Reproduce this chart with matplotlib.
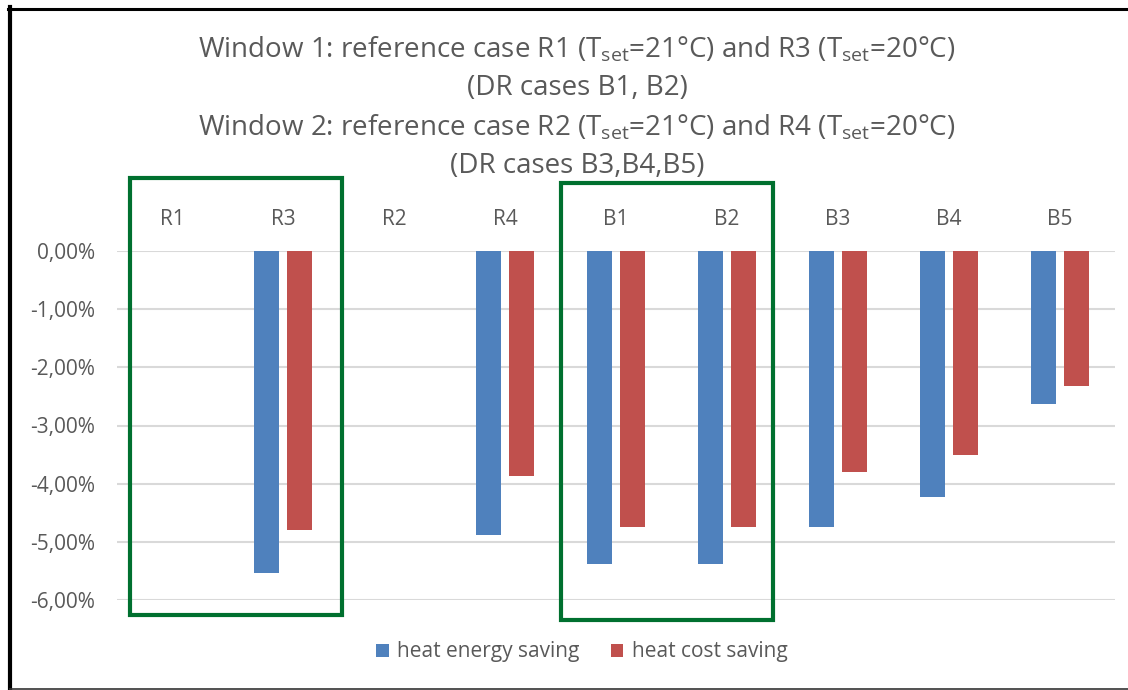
import numpy as np
import matplotlib
matplotlib.use('Agg')
import matplotlib.pyplot as plt
from matplotlib import font_manager
from matplotlib.patches import Rectangle
from matplotlib.lines import Line2D

# datos
categorias = ['R1', 'R3', 'R2', 'R4', 'B1', 'B2', 'B3', 'B4', 'B5']
ahorro_energia = [0.0, -5.54, 0.0, -4.88, -5.38, -5.38, -4.74, -4.22, -2.63]
ahorro_coste = [0.0, -4.79, 0.0, -3.87, -4.74, -4.74, -3.80, -3.51, -2.32]
ticks_y = [0, -1, -2, -3, -4, -5, -6]
titulo = [
    r'Window 1: reference case R1 (T$_{\mathrm{set}}$=21°C) and R3 (T$_{\mathrm{set}}$=20°C)',
    '(DR cases B1, B2)',
    r'Window 2: reference case R2 (T$_{\mathrm{set}}$=21°C) and R4 (T$_{\mathrm{set}}$=20°C)',
    '(DR cases B3,B4,B5)',
]

# fuente parecida a Calibri
nombres = {f.name for f in font_manager.fontManager.ttflist}
fuente = 'Liberation Sans Narrow' if 'Liberation Sans Narrow' in nombres else 'Open Sans'
plt.rcParams['font.family'] = [fuente, 'DejaVu Sans']
plt.rcParams['mathtext.fontset'] = 'custom'
plt.rcParams['mathtext.rm'] = fuente
plt.rcParams['mathtext.it'] = fuente

gris = '#595959'
azul = '#4F81BD'
rojo = '#C0504D'
verde = '#00702F'

W, H = 1128, 690
fig = plt.figure(figsize=(W / 100, H / 100), dpi=100)
ax = fig.add_axes([117 / W, 89.7 / H, 998 / W, 349.6 / H])

x = np.arange(len(categorias))
ancho = 0.225
ax.bar(x - 0.149, ahorro_energia, ancho, color=azul, label='heat energy saving', zorder=3)
ax.bar(x + 0.149, ahorro_coste, ancho, color=rojo, label='heat cost saving', zorder=3)

ax.set_xlim(-0.5, len(categorias) - 0.5)
ax.set_ylim(-6, 0)
ax.set_yticks(ticks_y)
ax.set_yticklabels([f'{v:.2f}%'.replace('.', ',') for v in ticks_y])
ax.set_xticks(x)
ax.set_xticklabels(categorias)
ax.xaxis.tick_top()
ax.tick_params(axis='both', length=0, colors=gris, labelsize=15)
ax.tick_params(axis='x', pad=15)
ax.tick_params(axis='y', pad=16)
ax.grid(axis='y', color='#D9D9D9', linewidth=1.5, zorder=0)
ax.set_axisbelow(True)
for s in ax.spines.values():
    s.set_visible(False)

# titulo en cuatro lineas
for texto, yy in zip(titulo, [50, 88, 128, 166]):
    fig.text(577 / W, 1 - yy / H, texto, ha='center', va='center', fontsize=20, color=gris)

# leyenda
fig.legend(loc='center', bbox_to_anchor=(582 / W, 1 - 652 / H), ncol=2, frameon=False,
           fontsize=15, labelcolor=gris, handlelength=0.6, handleheight=0.6,
           handletextpad=0.4, columnspacing=1.5)

# recuadros verdes
for x0, y0 in [(130, 178), (561, 183)]:
    fig.add_artist(Rectangle((x0 / W, 1 - (y0 + 437) / H), 212 / W, 437 / H,
                             transform=fig.transFigure, fill=False,
                             edgecolor=verde, linewidth=3))

# borde negro de la captura
fig.add_artist(Line2D([8 / W, 1], [1 - 8.5 / H, 1 - 8.5 / H], color='black', linewidth=2.2,
                      transform=fig.transFigure))
fig.add_artist(Line2D([10 / W, 10 / W], [0, 1 - 7 / H], color='black', linewidth=3,
                      transform=fig.transFigure))
fig.add_artist(Line2D([10 / W, 1], [1 / H, 1 / H], color='#333333', linewidth=1.2,
                      transform=fig.transFigure))

fig.savefig('out.png', dpi=100)
